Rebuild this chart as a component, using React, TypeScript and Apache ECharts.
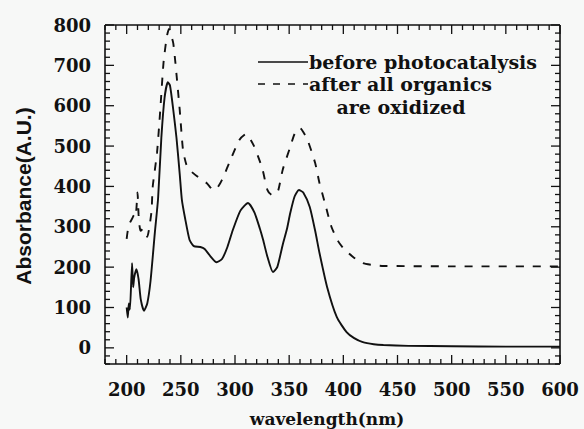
import React, { useEffect, useRef } from "react";
import * as echarts from "echarts";

// ---- data ----
const xRange = [180, 600];
const yRange = [-40, 800];
const xMajorTicks = [200, 250, 300, 350, 400, 450, 500, 550, 600];
const yMajorTicks = [0, 100, 200, 300, 400, 500, 600, 700, 800];
const xMinorStep = 10;
const yMinorStep = 20;

const beforeWavelength = [
  200, 201, 202, 203, 205, 206, 207, 209, 211, 213, 216, 219, 222, 226, 229, 232, 235, 238, 240, 243,
  246, 249, 251, 254, 258, 262, 268, 272, 277, 283, 288, 293, 298, 305, 312, 318, 323, 326, 330, 335,
  339, 344, 348, 351, 355, 359, 363, 369, 374, 378, 385, 394, 403, 410, 418, 428, 437, 460, 500, 550, 600,
];
const beforeAbsorbance = [
  100, 75, 110, 95, 210, 150, 175, 195, 170, 120, 92, 110, 165, 285, 370, 520, 620, 658, 650, 590,
  520, 430, 366, 320, 268, 252, 250, 245, 228, 212, 220, 250, 292, 340, 359, 335, 295, 267, 225, 188,
  200, 255, 295, 334, 375, 391, 385, 349, 290, 235, 151, 76, 39, 24, 14, 9, 7, 5, 4, 3, 3,
];

const afterWavelength = [
  200, 201, 203, 205, 207, 208, 209, 210, 211, 212, 213, 215, 217, 219, 221, 223, 224, 228, 231, 234,
  237, 239, 241, 243, 245, 249, 252, 255, 258, 265, 274, 280, 284, 288, 297, 304, 310, 317, 325, 330,
  334, 337, 340, 344, 351, 355, 360, 363, 367, 374, 378, 383, 389, 395, 400, 409, 418, 428, 437, 500, 600,
];
const afterAbsorbance = [
  270, 290, 310, 320, 330, 325, 345, 385, 330, 300, 290, 295, 285, 275, 300, 340, 398, 483, 589, 706,
  770, 790, 775, 755, 706, 589, 490, 455, 441, 425, 408, 391, 398, 416, 473, 515, 530, 503, 446, 391,
  379, 380, 391, 441, 498, 530, 545, 535, 515, 458, 408, 359, 300, 265, 247, 225, 210, 205, 203, 202, 202,
];

const seriesNames = ["before photocatalysis", "after all organics", "are oxidized"];
const axisTitles = { x: "wavelength(nm)", y: "Absorbance(A.U.)" };

const INK = "#111111";
const BG = "#f7f8f7";
const SERIF = "'DejaVu Serif', 'Liberation Serif', serif";
const SANS = "'Liberation Sans', Arial, sans-serif";

function pairs(xs: number[], ys: number[]) {
  return xs.map((x, i) => [x, ys[i]]);
}

function tickValues(min: number, max: number, step: number) {
  const out: number[] = [];
  for (let v = min; v <= max + 1e-9; v += step) out.push(v);
  return out;
}

export default function App() {
  const ref = useRef<HTMLDivElement>(null);

  useEffect(() => {
    document.body.style.margin = "0";
    document.body.style.background = BG;
    if (!ref.current) return;
    const chart = echarts.init(ref.current, undefined, { renderer: "svg" });

    const labelFont = {
      color: INK,
      fontFamily: SERIF,
      fontWeight: "bold" as const,
      fontSize: 18,
    };

    chart.setOption({
      animation: false,
      backgroundColor: BG,
      grid: { left: 105, right: 24, top: 25, bottom: 65, containLabel: false },
      xAxis: {
        type: "value",
        min: xRange[0],
        max: xRange[1],
        axisLine: { show: false, onZero: false },
        axisTick: { show: false },
        splitLine: { show: false },
        axisLabel: { show: true, customValues: xMajorTicks, margin: 16, ...labelFont },
      },
      yAxis: {
        type: "value",
        min: yRange[0],
        max: yRange[1],
        axisLine: { show: false, onZero: false },
        axisTick: { show: false },
        splitLine: { show: false },
        axisLabel: { show: true, customValues: yMajorTicks, margin: 14, ...labelFont },
      },
      series: [
        {
          name: seriesNames[0],
          type: "line",
          data: pairs(beforeWavelength, beforeAbsorbance),
          showSymbol: false,
          smooth: 0.2,
          lineStyle: { color: INK, width: 1.9 },
        },
        {
          name: seriesNames[1] + " " + seriesNames[2],
          type: "line",
          data: pairs(afterWavelength, afterAbsorbance),
          showSymbol: false,
          smooth: 0.2,
          lineStyle: { color: INK, width: 1.9, type: [8, 9] },
        },
      ],
    });

    // frame and inside ticks, placed through the chart's own scales
    const px = (x: number, y: number) => chart.convertToPixel({ gridIndex: 0 }, [x, y]) as number[];
    const seg = (x1: number, y1: number, x2: number, y2: number, w = 1.3) => ({
      type: "line",
      silent: true,
      z: 50,
      shape: { x1, y1, x2, y2 },
      style: { stroke: INK, lineWidth: w },
    });
    const tl = px(xRange[0], yRange[1]);
    const br = px(xRange[1], yRange[0]);
    const axisElems: any[] = [
      seg(tl[0], tl[1], br[0], tl[1], 1.6),
      seg(br[0], tl[1], br[0], br[1], 1.6),
      seg(br[0], br[1], tl[0], br[1], 1.6),
      seg(tl[0], br[1], tl[0], tl[1], 1.6),
    ];
    tickValues(xRange[0], xRange[1], xMinorStep).forEach((v) => {
      const len = xMajorTicks.indexOf(v) >= 0 ? 9 : 5;
      const x = px(v, yRange[0])[0];
      axisElems.push(seg(x, br[1], x, br[1] - len), seg(x, tl[1], x, tl[1] + len));
    });
    tickValues(yRange[0], yRange[1], yMinorStep).forEach((v) => {
      const len = yMajorTicks.indexOf(v) >= 0 ? 9 : 5;
      const y = px(xRange[0], v)[1];
      axisElems.push(seg(tl[0], y, tl[0] + len, y), seg(br[0], y, br[0] - len, y));
    });

    const textElems: any[] = [
      {
        type: "text",
        x: 327,
        y: 419,
        style: { text: axisTitles.x, fill: INK, font: `bold 17px ${SERIF}`, align: "center", verticalAlign: "middle" },
      },
      {
        type: "text",
        x: 23,
        y: 196,
        rotation: Math.PI / 2,
        style: { text: axisTitles.y, fill: INK, font: `bold 21px ${SANS}`, align: "center", verticalAlign: "middle" },
      },
      {
        type: "line",
        shape: { x1: 258, y1: 62, x2: 308, y2: 62 },
        style: { stroke: INK, lineWidth: 1.6 },
      },
      {
        type: "text",
        x: 309,
        y: 62,
        style: { text: seriesNames[0], fill: INK, font: `bold 19px ${SERIF}`, verticalAlign: "middle", align: "left" },
      },
      {
        type: "line",
        shape: { x1: 258, y1: 84, x2: 308, y2: 84 },
        style: { stroke: INK, lineWidth: 1.6, lineDash: [7, 8] },
      },
      {
        type: "text",
        x: 309,
        y: 84,
        style: { text: seriesNames[1], fill: INK, font: `bold 19px ${SERIF}`, verticalAlign: "middle", align: "left" },
      },
      {
        type: "text",
        x: 401,
        y: 107,
        style: { text: seriesNames[2], fill: INK, font: `bold 19px ${SERIF}`, verticalAlign: "middle", align: "center" },
      },
    ];

    chart.setOption({ graphic: [...textElems, ...axisElems] });

    return () => chart.dispose();
  }, []);

  return <div ref={ref} style={{ width: 584, height: 429, background: BG }} />;
}
